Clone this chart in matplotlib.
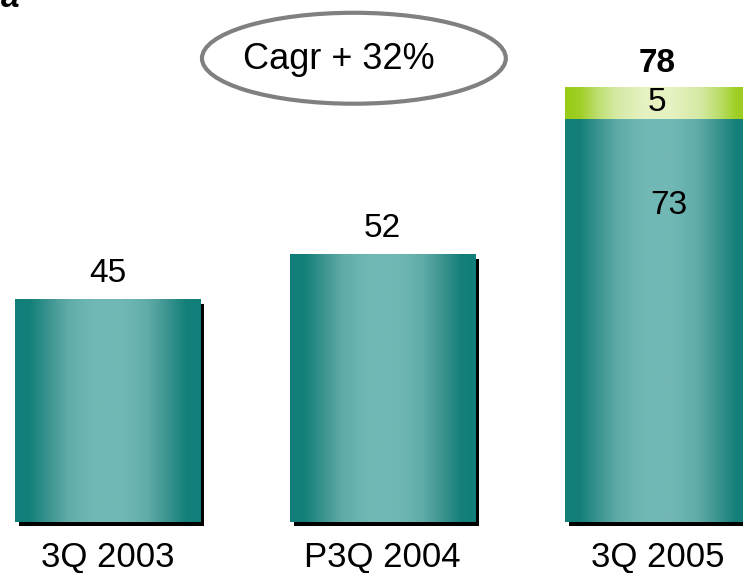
import numpy as np
import matplotlib.pyplot as plt
from matplotlib.patches import Rectangle, Ellipse
from matplotlib.colors import LinearSegmentedColormap
import matplotlib.patheffects as pe

plt.rcParams['font.family'] = ['Liberation Sans', 'DejaVu Sans']

# data
categories = ['3Q 2003', 'P3Q 2004', '3Q 2005']
base_values = [45, 52, 73]
extra_values = [0, 0, 5]
totals = [45, 52, 78]
cagr_text = 'Cagr + 32%'
axis_floor = 10.5  # value axis in the original starts above zero

teal = LinearSegmentedColormap.from_list('teal', [
    (0.0, '#117e7a'), (0.08, '#158079'), (0.18, '#3c9490'), (0.28, '#5eaba8'),
    (0.42, '#71b8b5'), (0.58, '#71b8b5'), (0.72, '#5eaba8'), (0.82, '#3c9490'),
    (0.92, '#158079'), (1.0, '#117e7a')])
lime = LinearSegmentedColormap.from_list('lime', [
    (0.0, '#98cb17'), (0.08, '#a0cf26'), (0.18, '#bedf73'), (0.28, '#d6eaa6'),
    (0.42, '#e5f2c1'), (0.58, '#e5f2c1'), (0.72, '#d6eaa6'), (0.82, '#bedf73'),
    (0.92, '#a0cf26'), (1.0, '#98cb17')])

fig = plt.figure(figsize=(7.43, 5.73), dpi=100)
ax = fig.add_axes([0, 0, 1, 1])
ax.set_xlim(-0.391, 2.311)
ax.set_ylim(2.59, 91.43)
ax.axis('off')

width = 0.673
grad = np.linspace(0, 1, 256).reshape(1, -1)
x = np.arange(len(categories))

def gradient_bar(xc, bottom, top, cmap, shadow):
    rect = Rectangle((xc - width / 2, bottom), width, top - bottom,
                     facecolor=cmap(0.0), edgecolor='none', zorder=2)
    if shadow:
        rect.set_path_effects([pe.SimplePatchShadow(offset=(3.2, -3.2), shadow_rgbFace='black', alpha=1),
                               pe.Normal()])
    ax.add_patch(rect)
    im = ax.imshow(grad, cmap=cmap, aspect='auto', zorder=3, interpolation='bilinear',
                   extent=(xc - width / 2, xc + width / 2, bottom, top))
    im.set_clip_path(rect)

for i in range(len(categories)):
    gradient_bar(x[i], axis_floor, base_values[i], teal, True)
    if extra_values[i]:
        gradient_bar(x[i], base_values[i], base_values[i] + extra_values[i], lime, False)

# value labels
for i in range(2):
    ax.text(x[i], totals[i] + 4.0, str(totals[i]), ha='center', va='center', fontsize=24)
ax.text(x[2], totals[2] + 3.6, str(totals[2]), ha='center', va='center',
        fontsize=24, fontweight='bold')
ax.text(x[2], base_values[2] + extra_values[2] / 2, str(extra_values[2]),
        ha='center', va='center', fontsize=24, zorder=5)
ax.text(x[2] + 0.04, base_values[2] - 13.4, str(base_values[2]),
        ha='center', va='center', fontsize=24, zorder=5)

# category labels
for i, c in enumerate(categories):
    ax.text(x[i], axis_floor - 5.4, c, ha='center', va='center', fontsize=25)

# cagr ellipse
ax.add_patch(Ellipse((0.896, 82.4), 1.105, 14.1, facecolor='white',
                     edgecolor='#808080', lw=3, zorder=4))
ax.text(0.84, 82.2, cagr_text, ha='center', va='center', fontsize=26, zorder=5)

# cut-off title fragment in the corner
fig.text(0.001, 0.987, 'a', fontsize=24, fontweight='bold', style='italic',
         ha='left', va='baseline')

fig.savefig('out.png', dpi=100)
